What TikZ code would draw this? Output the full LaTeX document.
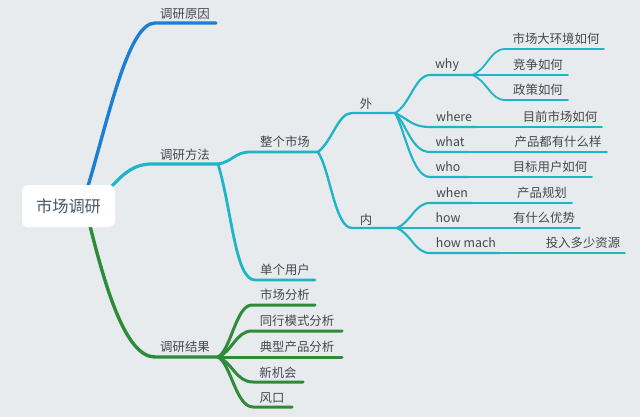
\documentclass[tikz,border=0pt]{standalone}
\usepackage{fontspec}
\setmainfont{Noto Sans CJK SC}
\begin{document}
\begin{tikzpicture}[x=1pt,y=-1pt,
  lbl/.style={inner sep=0pt, text=txtgray, font=\fontsize{12.4}{14}\selectfont},
  bblue/.style={draw=cblue, line width=3.4pt, line cap=round},
  bcyan1/.style={draw=ccyan, line width=3.2pt, line cap=round},
  bcyan2/.style={draw=ccyan, line width=2.8pt, line cap=round},
  bcyan3/.style={draw=ccyan, line width=2.4pt, line cap=round},
  bcyan4/.style={draw=ccyan, line width=2.1pt, line cap=round},
  bcyan5/.style={draw=ccyan, line width=1.8pt, line cap=round},
  bgreen1/.style={draw=cgreen, line width=3.4pt, line cap=round},
  bgreen2/.style={draw=cgreen, line width=3.0pt, line cap=round}
]
\definecolor{bg}{RGB}{232,235,238}
\definecolor{cblue}{RGB}{28,126,212}
\definecolor{ccyan}{RGB}{30,181,198}
\definecolor{cgreen}{RGB}{46,139,58}
\definecolor{txtgray}{RGB}{68,72,77}
\definecolor{roottxt}{RGB}{72,88,102}
\useasboundingbox (0,0) rectangle (640,417);
\fill[bg] (0,0) rectangle (640,417);

% ---------- coordinates ----------
\coordinate (rT) at (88,186);
\coordinate (rR) at (112,186);
\coordinate (rB) at (90,226);
% level 1
\coordinate (yyS) at (155,23);  \coordinate (yyE) at (216,23);
\coordinate (ffS) at (152,164); \coordinate (ffE) at (218,164);
\coordinate (jgS) at (155,357); \coordinate (jgE) at (218,357);
% level 2 (method)
\coordinate (zgS) at (250,152); \coordinate (zgE) at (318,152);
\coordinate (dgS) at (255,280); \coordinate (dgE) at (315,280);
% level 3
\coordinate (wS) at (352,113);  \coordinate (wE) at (395,113);
\coordinate (nS) at (352,228);  \coordinate (nE) at (397,228);
% level 4 (outer)
\coordinate (whyS) at (430,75);   \coordinate (whyE) at (472,75);
\coordinate (wheS) at (430,127);  \coordinate (wheE) at (477,127);
\coordinate (whaS) at (430,152);  \coordinate (whaE) at (468,152);
\coordinate (whoS) at (430,177);  \coordinate (whoE) at (467,177);
% level 4 (inner)
\coordinate (wheN) at (430,203);  \coordinate (wheNE) at (472,203);
\coordinate (howS) at (430,228);  \coordinate (howE) at (470,228);
\coordinate (hmS) at (430,253);   \coordinate (hmE) at (500,253);
% level 5
\coordinate (l1S) at (505,49);  \coordinate (l1E) at (604,49);
\coordinate (l2E) at (568,75);
\coordinate (l3S) at (505,100); \coordinate (l3E) at (568,100);
\coordinate (l4E) at (602,127);
\coordinate (l5E) at (607,152);
\coordinate (l6E) at (592,177);
\coordinate (l7E) at (572,203);
\coordinate (l8E) at (580,228);
\coordinate (l9E) at (625,253);
% green children
\coordinate (g1S) at (252,305); \coordinate (g1E) at (315,305);
\coordinate (g2S) at (252,331); \coordinate (g2E) at (342,331);
\coordinate (g3S) at (252,357); \coordinate (g3E) at (342,357);
\coordinate (g4S) at (253,382); \coordinate (g4E) at (303,382);
\coordinate (g5S) at (253,407); \coordinate (g5E) at (292,407);

% ---------- connectors ----------
\draw[bblue] (rT) .. controls (108,120) and (128,23) .. (yyS) -- (yyE);
\draw[bcyan1] (rR) .. controls (125,172) and (135,164) .. (ffS) -- (ffE);
\draw[bgreen1] (rB) .. controls (105,285) and (125,357) .. (jgS) -- (jgE);

\draw[bcyan2] (ffE) .. controls (232,162) and (235,152) .. (zgS) -- (zgE);
\draw[bcyan2] (ffE) .. controls (232,210) and (235,280) .. (dgS) -- (dgE);

\draw[bcyan3] (zgE) .. controls (333,140) and (338,113) .. (wS) -- (wE);
\draw[bcyan3] (zgE) .. controls (330,170) and (335,228) .. (nS) -- (nE);

\draw[bcyan4] (wE) .. controls (410,105) and (415,75) .. (whyS) -- (whyE);
\draw[bcyan4] (wE) .. controls (410,120) and (412,127) .. (wheS) -- (wheE);
\draw[bcyan4] (wE) .. controls (407,125) and (412,152) .. (whaS) -- (whaE);
\draw[bcyan4] (wE) .. controls (405,130) and (412,177) .. (whoS) -- (whoE);

\draw[bcyan4] (nE) .. controls (411,222) and (415,203) .. (wheN) -- (wheNE);
\draw[bcyan4] (nE) -- (howS) -- (howE);
\draw[bcyan4] (nE) .. controls (411,234) and (415,253) .. (hmS) -- (hmE);

\draw[bcyan5] (whyE) .. controls (487,70) and (490,49) .. (l1S) -- (l1E);
\draw[bcyan5] (whyE) -- (l2E);
\draw[bcyan5] (whyE) .. controls (487,80) and (490,100) .. (l3S) -- (l3E);
\draw[bcyan5] (wheE) -- (l4E);
\draw[bcyan5] (whaE) -- (l5E);
\draw[bcyan5] (whoE) -- (l6E);
\draw[bcyan5] (wheNE) -- (l7E);
\draw[bcyan5] (howE) -- (l8E);
\draw[bcyan5] (hmE) -- (l9E);

\draw[bgreen2] (jgE) .. controls (231,350) and (236,305) .. (g1S) -- (g1E);
\draw[bgreen2] (jgE) .. controls (232,352) and (236,331) .. (g2S) -- (g2E);
\draw[bgreen2] (jgE) -- (g3S) -- (g3E);
\draw[bgreen2] (jgE) .. controls (232,362) and (236,382) .. (g4S) -- (g4E);
\draw[bgreen2] (jgE) .. controls (231,364) and (236,407) .. (g5S) -- (g5E);

% ---------- root ----------
\node[fill=white, rounded corners=6pt, minimum width=93pt, minimum height=42pt,
      inner sep=0pt, text=roottxt, font=\fontsize{16.2}{18}\selectfont]
      (root) at (68.5,206) {市场调研};

% ---------- labels ----------
\node[lbl] (t1) at (185,14) {调研原因};
\node[lbl] (t2) at (185,155) {调研方法};
\node[lbl] (t3) at (185,347) {调研结果};
\node[lbl] (t4) at (285,142) {整个市场};
\node[lbl] (t5) at (285,270) {单个用户};
\node[lbl] (t6) at (366,104) {外};
\node[lbl] (t7) at (366,220) {内};
\node[lbl] (t8) at (447,65) {why};
\node[lbl] (t9) at (454,117) {where};
\node[lbl] (t10) at (450,142) {what};
\node[lbl] (t11) at (448,167) {who};
\node[lbl] (t12) at (452,193) {when};
\node[lbl] (t13) at (448,218) {how};
\node[lbl] (t14) at (466,243) {how mach};
\node[lbl] (t15) at (556,39) {市场大环境如何};
\node[lbl] (t16) at (538,65) {竞争如何};
\node[lbl] (t17) at (538,90) {政策如何};
\node[lbl] (t18) at (560,117) {目前市场如何};
\node[lbl] (t19) at (558,142) {产品都有什么样};
\node[lbl] (t20) at (550,167) {目标用户如何};
\node[lbl] (t21) at (542,193) {产品规划};
\node[lbl] (t22) at (544,218) {有什么优势};
\node[lbl] (t23) at (583,243) {投入多少资源};
\node[lbl] (t24) at (285,295) {市场分析};
\node[lbl] (t25) at (297,321) {同行模式分析};
\node[lbl] (t26) at (297,347) {典型产品分析};
\node[lbl] (t27) at (278,373) {新机会};
\node[lbl] (t28) at (272,398) {风口};
\end{tikzpicture}
\end{document}
